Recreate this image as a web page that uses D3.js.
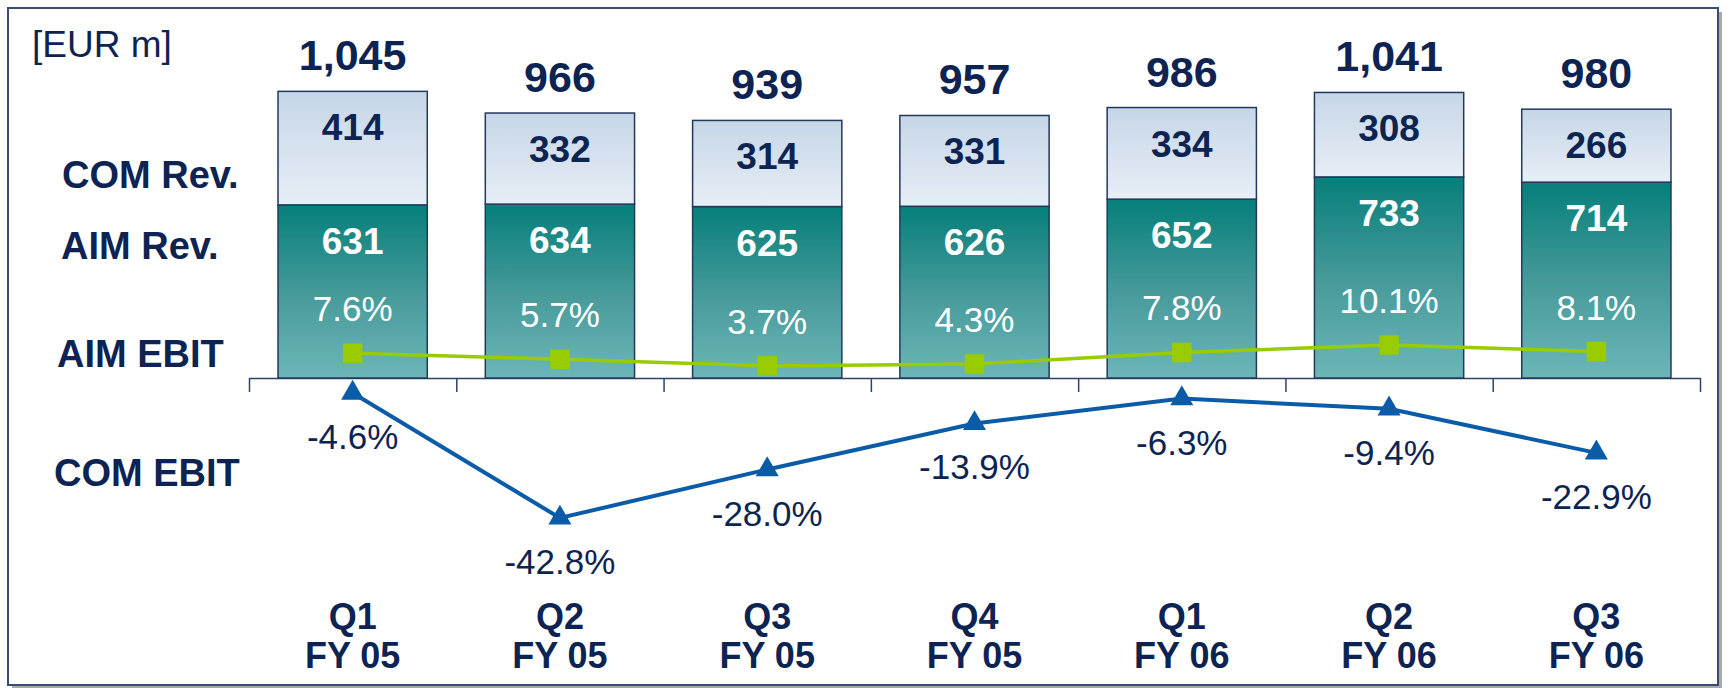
<!DOCTYPE html>
<html>
<head>
<meta charset="utf-8">
<script src="https://cdn.jsdelivr.net/npm/d3@7"></script>
<style>
  body { margin: 0; background: #fff; }
  svg { display: block; font-family: "Liberation Sans", Arial, sans-serif; }
</style>
</head>
<body>
<svg id="chart"></svg>
<script>
// quarters and values
const quarters = ["Q1 FY 05", "Q2 FY 05", "Q3 FY 05", "Q4 FY 05", "Q1 FY 06", "Q2 FY 06", "Q3 FY 06"];
const aimRev = [631, 634, 625, 626, 652, 733, 714];
const comRev = [414, 332, 314, 331, 334, 308, 266];
const totals = ["1,045", "966", "939", "957", "986", "1,041", "980"];
const aimEbit = [7.6, 5.7, 3.7, 4.3, 7.8, 10.1, 8.1];
const comEbit = [-4.6, -42.8, -28.0, -13.9, -6.3, -9.4, -22.9];

const width = 1730, height = 688;
const navy = "#0d2452";

const svg = d3.select("#chart").attr("width", width).attr("height", height);

const defs = svg.append("defs");
const comGrad = defs.append("linearGradient").attr("id", "comGrad")
  .attr("x1", 0).attr("y1", 0).attr("x2", 0).attr("y2", 1);
comGrad.append("stop").attr("offset", "0%").attr("stop-color", "#c6d6e7");
comGrad.append("stop").attr("offset", "100%").attr("stop-color", "#e7eef6");
const aimGrad = defs.append("linearGradient").attr("id", "aimGrad")
  .attr("x1", 0).attr("y1", 0).attr("x2", 0).attr("y2", 1);
aimGrad.append("stop").attr("offset", "0%").attr("stop-color", "#067f7a");
aimGrad.append("stop").attr("offset", "55%").attr("stop-color", "#4a9c9c");
aimGrad.append("stop").attr("offset", "100%").attr("stop-color", "#6cb6b8");

// frame with shadow
svg.append("rect").attr("x", 12).attr("y", 12).attr("width", 1710).attr("height", 676).attr("fill", "#a9a9a9");
svg.append("rect").attr("x", 8).attr("y", 8).attr("width", 1710).attr("height", 677)
  .attr("fill", "#fff").attr("stroke", "#3a4d70").attr("stroke-width", 2);

const x0 = 249, x1 = 1700, baseY = 378;

const x = d3.scaleBand().domain(quarters).range([x0, x1]).paddingInner(0.28).paddingOuter(0.14);
const y = d3.scaleLinear().domain([0, 1000]).range([baseY, baseY - 274.3]);
const yPct = d3.scaleLinear().domain([0, 10]).range([baseY, baseY - 32.7]);

// axis with ticks on the category boundaries
const xTicks = d3.scaleLinear().domain([0, quarters.length]).range([x0, x1]);
svg.append("g")
  .attr("transform", `translate(0,${baseY})`)
  .call(d3.axisBottom(xTicks).tickValues(d3.range(quarters.length + 1)).tickFormat("").tickSize(14).tickSizeOuter(0))
  .call((g) => g.selectAll("path, line").attr("stroke", "#2d4468").attr("stroke-width", 1.5));

// stacked bars
const bars = svg.append("g").selectAll("g").data(quarters).join("g");

bars.append("rect")
  .attr("x", (d) => x(d))
  .attr("width", x.bandwidth())
  .attr("y", (d, i) => y(aimRev[i]))
  .attr("height", (d, i) => baseY - y(aimRev[i]))
  .attr("fill", "url(#aimGrad)")
  .attr("stroke", "#22395e").attr("stroke-width", 1.5);

bars.append("rect")
  .attr("x", (d) => x(d))
  .attr("width", x.bandwidth())
  .attr("y", (d, i) => y(aimRev[i] + comRev[i]))
  .attr("height", (d, i) => y(aimRev[i]) - y(aimRev[i] + comRev[i]))
  .attr("fill", "url(#comGrad)")
  .attr("stroke", "#22395e").attr("stroke-width", 1.5);

const cx = (d) => x(d) + x.bandwidth() / 2;

bars.append("text")
  .attr("x", cx)
  .attr("y", (d, i) => y(aimRev[i] + comRev[i]) - 21)
  .attr("text-anchor", "middle")
  .attr("font-size", 43).attr("font-weight", "bold").attr("fill", navy)
  .text((d, i) => totals[i]);

bars.append("text")
  .attr("x", cx)
  .attr("y", (d, i) => y(aimRev[i] + comRev[i]) + 49)
  .attr("text-anchor", "middle")
  .attr("font-size", 37).attr("font-weight", "bold").attr("fill", navy)
  .text((d, i) => comRev[i]);

bars.append("text")
  .attr("x", cx)
  .attr("y", (d, i) => y(aimRev[i]) + 49)
  .attr("text-anchor", "middle")
  .attr("font-size", 37).attr("font-weight", "bold").attr("fill", "#fff")
  .text((d, i) => aimRev[i]);

bars.append("text")
  .attr("x", cx)
  .attr("y", (d, i) => yPct(aimEbit[i]) - 32)
  .attr("text-anchor", "middle")
  .attr("font-size", 35).attr("fill", "#fff")
  .text((d, i) => aimEbit[i].toFixed(1) + "%");

// AIM EBIT line
const line = d3.line();
svg.append("path")
  .attr("d", line(quarters.map((d, i) => [cx(d), yPct(aimEbit[i])])))
  .attr("fill", "none").attr("stroke", "#99cc00").attr("stroke-width", 3.5);
svg.append("g").selectAll("path").data(quarters).join("path")
  .attr("transform", (d, i) => `translate(${cx(d)},${yPct(aimEbit[i])})`)
  .attr("d", d3.symbol(d3.symbolSquare, 380))
  .attr("fill", "#99cc00");

// COM EBIT line
svg.append("path")
  .attr("d", line(quarters.map((d, i) => [cx(d), yPct(comEbit[i])])))
  .attr("fill", "none").attr("stroke", "#0a5ca8").attr("stroke-width", 4);
svg.append("g").selectAll("path").data(quarters).join("path")
  .attr("transform", (d, i) => `translate(${cx(d)},${yPct(comEbit[i])})`)
  .attr("d", d3.symbol(d3.symbolTriangle, 230))
  .attr("fill", "#0a5ca8");

svg.append("g").selectAll("text").data(quarters).join("text")
  .attr("x", cx)
  .attr("y", (d, i) => yPct(comEbit[i]) + 56)
  .attr("text-anchor", "middle")
  .attr("font-size", 35).attr("fill", navy)
  .text((d, i) => comEbit[i].toFixed(1) + "%");

// category labels, two lines
const catLabels = svg.append("g").selectAll("text").data(quarters).join("text")
  .attr("text-anchor", "middle")
  .attr("font-size", 36).attr("font-weight", "bold").attr("fill", navy);
catLabels.append("tspan").attr("x", cx).attr("y", 629).text((d) => d.split(" ")[0]);
catLabels.append("tspan").attr("x", cx).attr("y", 668).text((d) => d.split(" ").slice(1).join(" "));

// row labels on the left
svg.append("text").attr("x", 32).attr("y", 57).attr("font-size", 37).attr("fill", navy).text("[EUR m]");
const rowLabels = [
  ["COM Rev.", 62, 188],
  ["AIM Rev.", 61, 259],
  ["AIM EBIT", 57, 367],
  ["COM EBIT", 54, 486],
];
svg.append("g").selectAll("text").data(rowLabels).join("text")
  .attr("x", (d) => d[1]).attr("y", (d) => d[2])
  .attr("font-size", 38).attr("font-weight", "bold").attr("fill", navy)
  .text((d) => d[0]);
</script>
</body>
</html>
